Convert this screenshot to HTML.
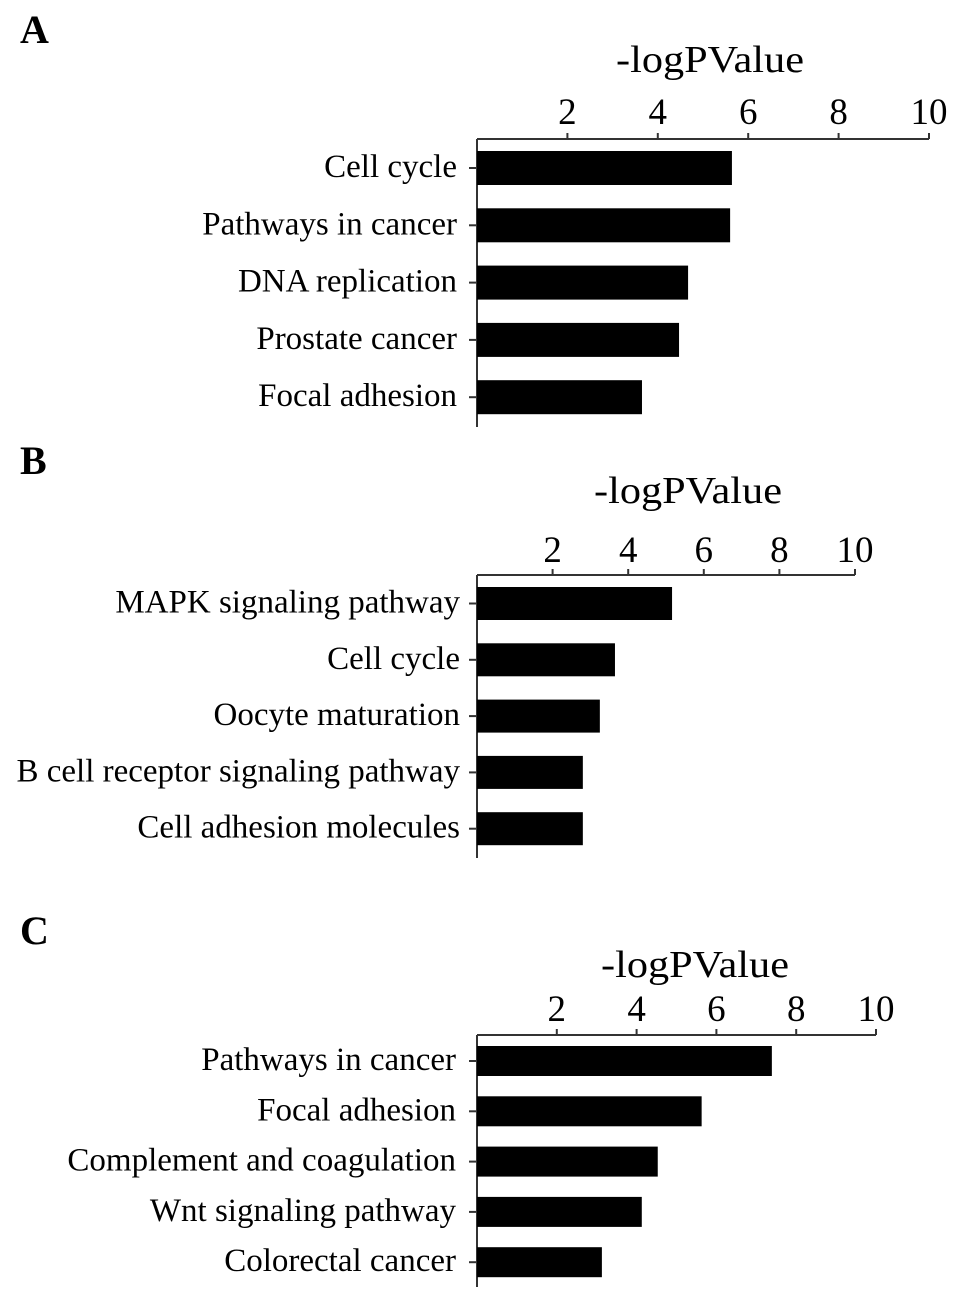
<!DOCTYPE html>
<html><head><meta charset="utf-8"><style>
html,body{margin:0;padding:0;background:#fff;}
svg{display:block;font-family:"Liberation Serif",serif;}
</style></head><body>
<svg id="chart" width="957" height="1307" viewBox="0 0 957 1307"></svg>
<script>
const ticks = [2, 4, 6, 8, 10];
const catsA = ["Cell cycle", "Pathways in cancer", "DNA replication", "Prostate cancer", "Focal adhesion"];
const valsA = [5.64, 5.6, 4.67, 4.47, 3.65];
const catsB = ["MAPK signaling pathway", "Cell cycle", "Oocyte maturation", "B cell receptor signaling pathway", "Cell adhesion molecules"];
const valsB = [5.16, 3.65, 3.25, 2.8, 2.8];
const catsC = ["Pathways in cancer", "Focal adhesion", "Complement and coagulation", "Wnt signaling pathway", "Colorectal cancer"];
const valsC = [7.39, 5.63, 4.53, 4.13, 3.13];

const NS = "http://www.w3.org/2000/svg";
const svg = document.getElementById("chart");
function mk(tag, attrs, parent, text) {
  const e = document.createElementNS(NS, tag);
  for (const k in attrs) e.setAttribute(k, attrs[k]);
  if (text !== undefined) e.textContent = text;
  parent.appendChild(e);
  return e;
}

const panels = [
  {id:"a", letter:"A", ly:43, cats:catsA, vals:valsA, x0:477, x10:929, ay:139, bTop:151, bh:34, pitch:57.3, bottom:427, tickBase:124, titleX:710, titleY:72, labelX:457},
  {id:"b", letter:"B", ly:474, cats:catsB, vals:valsB, x0:477, x10:855, ay:575, bTop:587, bh:33, pitch:56.3, bottom:858, tickBase:562, titleX:688, titleY:503, labelX:460},
  {id:"c", letter:"C", ly:944, cats:catsC, vals:valsC, x0:477, x10:876, ay:1035, bTop:1046, bh:30, pitch:50.3, bottom:1287, tickBase:1021, titleX:695, titleY:977, labelX:456}
];

panels.forEach(p => {
  const g = mk("g", {}, svg);
  
  
  const xs = v => p.x0 + (p.x10 - p.x0) * v / 10;

  const letter = mk("text", {x:20, y:p.ly, "font-size":40, "font-weight":"bold"}, g, p.letter);
  
  

  const title = mk("text", {x:p.titleX, y:p.titleY, "font-size":38, "text-anchor":"middle", textLength:188, lengthAdjust:"spacingAndGlyphs"}, g, "-logPValue");
  
  

  const xaxis = mk("line", {x1:p.x0, y1:p.ay, x2:xs(10), y2:p.ay, stroke:"#333", "stroke-width":2}, g);
  
  
  const yaxis = mk("line", {x1:p.x0, y1:p.ay, x2:p.x0, y2:p.bottom, stroke:"#333", "stroke-width":2}, g);
  
  

  ticks.forEach(t => {
    const tm = mk("line", {x1:xs(t), y1:p.ay - 6, x2:xs(t), y2:p.ay, stroke:"#333", "stroke-width":2}, g);
    
    
    const tl = mk("text", {x:xs(t), y:p.tickBase, "font-size":37, "text-anchor":"middle"}, g, String(t));
    
    
  });

  p.cats.forEach((c, i) => {
    const y = p.bTop + i * p.pitch;
    const bar = mk("rect", {x:p.x0, y:y, width:xs(p.vals[i]) - p.x0, height:p.bh, fill:"#000"}, g);
    
    
    const cy = y + p.bh / 2;
    const tk = mk("line", {x1:p.x0 - 8, y1:cy, x2:p.x0, y2:cy, stroke:"#333", "stroke-width":2}, g);
    
    
    const lb = mk("text", {x:p.labelX, y:cy + 9, "font-size":33, "text-anchor":"end"}, g, c);
    
    
  });
});
</script>
</body></html>
